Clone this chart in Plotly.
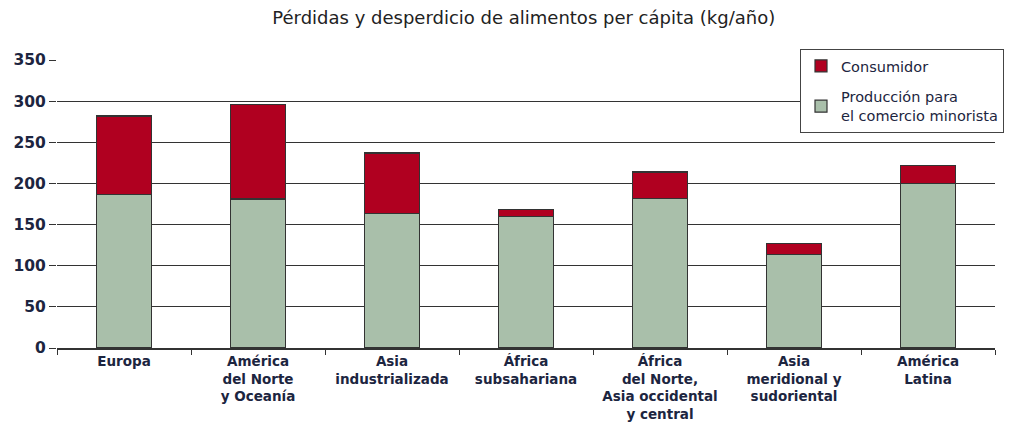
import plotly.graph_objects as go

categories = ["Europa", "América<br>del Norte<br>y Oceanía", "Asia<br>industrializada",
              "África<br>subsahariana", "África<br>del Norte,<br>Asia occidental<br>y central",
              "Asia<br>meridional y<br>sudoriental", "América<br>Latina"]
produccion = [187, 181, 163, 160, 182, 114, 200]
consumidor = [95, 115, 74, 8, 32, 13, 22]
y_ticks = [0, 50, 100, 150, 200, 250, 300, 350]

text_color = "#1c2540"
font = "DejaVu Sans"

fig = go.Figure()
fig.add_trace(go.Bar(
    x=categories, y=produccion, name="Producción para<br>el comercio minorista",
    legendgroup="prod", legendrank=2,
    marker=dict(color="#a9bfaa", line=dict(color="#333333", width=1.2)),
    width=0.41,
))
fig.add_trace(go.Bar(
    x=categories, y=consumidor, name="Consumidor",
    legendgroup="cons", legendrank=1,
    marker=dict(color="#b00020", line=dict(color="#333333", width=1.2)),
    width=0.41,
))

fig.update_layout(
    barmode="stack",
    width=1017, height=425,
    margin=dict(l=57, r=22, t=60, b=77),
    paper_bgcolor="white", plot_bgcolor="white",
    font=dict(family=font, color=text_color, size=14),
    title=dict(text="Pérdidas y desperdicio de alimentos per cápita (kg/año)",
               x=0.515, xanchor="center", y=1 - 18 / 425, yref="container", yanchor="middle",
               font=dict(family=font, size=18, color="#222222")),
    showlegend=True,
    legend=dict(traceorder="grouped",
                x=(1004 - 57) / 938, xanchor="right", y=(348 - 49) / 288, yanchor="top",
                bgcolor="white", bordercolor="#444444", borderwidth=1,
                font=dict(family=font, size=14.5, color=text_color),
                tracegroupgap=9, itemwidth=30),
    bargap=0.59,
)
fig.update_yaxes(
    range=[0, 350], tickvals=y_ticks, showgrid=True, gridcolor="#333333", gridwidth=1.3,
    showline=False, zeroline=False, ticks="outside", ticklen=7, tickcolor="#333333",
    tickwidth=1.3, automargin=False,
    tickfont=dict(family=font, size=15.5, color=text_color, weight="bold"),
)
fig.update_xaxes(
    showline=True, linecolor="#333333", linewidth=1.5, ticks="outside", tickson="boundaries",
    ticklen=5, tickcolor="#333333", tickwidth=1, automargin=False,
    tickfont=dict(family=font, size=13.5, color=text_color, weight="bold"),
    tickangle=0,
)

fig.write_html(
    "out.html",
    config={"displayModeBar": False},
    post_script="document.body.style.margin='0px';document.body.style.overflow='hidden';",
)
